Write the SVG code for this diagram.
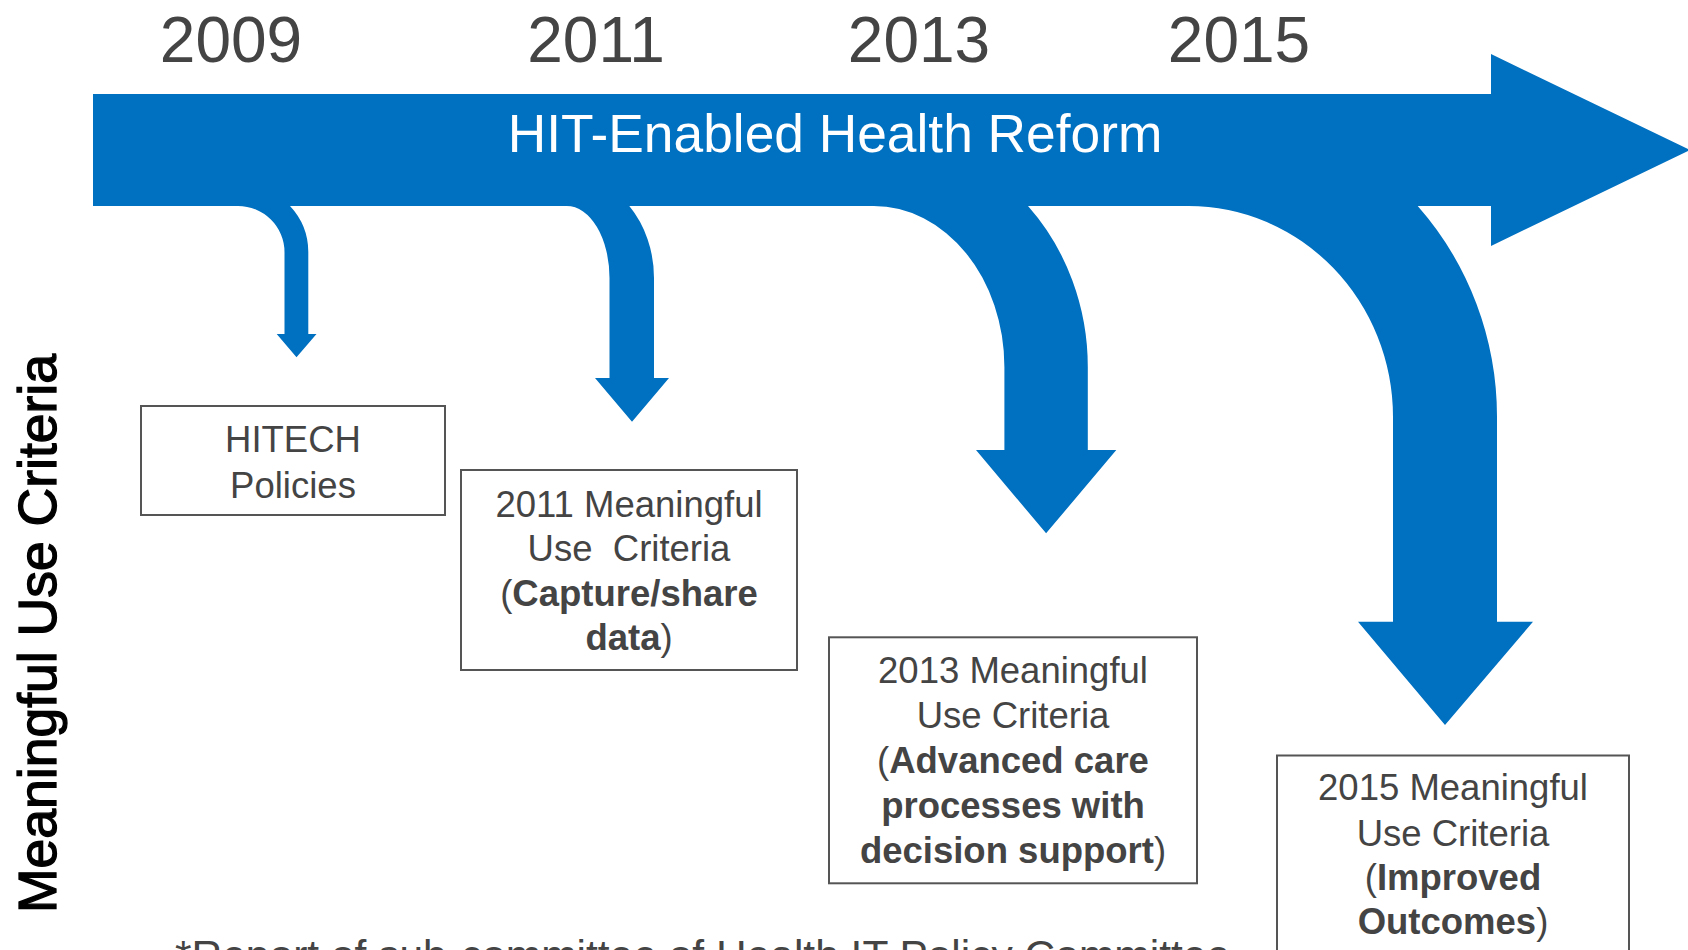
<svg xmlns="http://www.w3.org/2000/svg" width="1688" height="950" viewBox="0 0 1688 950">
<style>
.blue{fill:#0070C0}
.year{font-family:"Liberation Sans",Arial,sans-serif;font-size:64px;fill:#444;text-anchor:middle}
.box{fill:#fff;stroke:#555;stroke-width:2}
.bt{font-family:"Liberation Sans",Arial,sans-serif;font-size:36.5px;fill:#444;text-anchor:middle}
.b{font-weight:bold}
</style>
<rect width="1688" height="950" fill="#fff"/>
<g id="years">
<text class="year" x="231" y="62">2009</text>
<text class="year" x="596" y="62">2011</text>
<text class="year" x="919" y="62">2013</text>
<text class="year" x="1239" y="62">2015</text>
</g>
<g id="connectors">
<path id="main-arrow" class="blue" d="M93,94 L1491,94 L1491,54 L1690,150 L1491,246 L1491,206 L93,206 Z"/>
<path id="arrow-2009" class="blue" d="M238,200 L238,206 A46.5 46 0 0 1 284.5,252 L284.5,334 L276.7,334 L296.5,357.3 L316.5,334 L308.3,334 L308.3,252 A70.3 68.4 0 0 0 290,206 L290,200 Z"/>
<path id="arrow-2011" class="blue" d="M566.7,200 L566.7,206 A42.8 72 0 0 1 609.5,278 L609.5,378 L595,378 L632,421.7 L669,378 L654,378 L654,278 A87.3 103.3 0 0 0 629.3,206 L629.3,200 Z"/>
<path id="arrow-2013" class="blue" d="M873.6,200 L873.6,206 A130.8 161 0 0 1 1004.4,367 L1004.4,450 L976,450 L1046.1,533.3 L1116.3,450 L1087.8,450 L1087.8,367 A214.2 232.3 0 0 0 1028,206 L1028,200 Z"/>
<path id="arrow-2015" class="blue" d="M1188.5,200 L1188.5,206 A204.5 211 0 0 1 1393,417 L1393,621.7 L1358,621.7 L1445,725 L1533,621.7 L1497,621.7 L1497,417 A308.5 315 0 0 0 1417.7,206 L1417.7,200 Z"/>
</g>
<text id="main-label" x="835" y="151.5" font-family="Liberation Sans, Arial, sans-serif" font-size="53.3" fill="#fff" text-anchor="middle">HIT-Enabled Health Reform</text>
<g id="axis-label">
<text transform="translate(56,633.5) rotate(-90)" font-family="Liberation Sans, Arial, sans-serif" font-size="53.5" fill="#000" stroke="#000" stroke-width="1.3" text-anchor="middle">Meaningful Use Criteria</text>
</g>
<g id="box-hitech">
<rect class="box" x="141" y="406" width="304" height="109"/>
<text class="bt" x="293" y="452">HITECH</text>
<text class="bt" x="293" y="497.5">Policies</text>
</g>
<g id="box-2011">
<rect class="box" x="461" y="470" width="336" height="200"/>
<text class="bt" x="629" y="516.7">2011 Meaningful</text>
<text class="bt" x="629" y="561" xml:space="preserve">Use  Criteria</text>
<text class="bt" x="629" y="605.5">(<tspan class="b">Capture/share</tspan></text>
<text class="bt" x="629" y="650"><tspan class="b">data</tspan>)</text>
</g>
<g id="box-2013">
<rect class="box" x="829" y="637.3" width="368" height="246"/>
<text class="bt" x="1013" y="683.3">2013 Meaningful</text>
<text class="bt" x="1013" y="728.3">Use Criteria</text>
<text class="bt" x="1013" y="773.3">(<tspan class="b">Advanced care</tspan></text>
<text class="bt" x="1013" y="817.7"><tspan class="b">processes with</tspan></text>
<text class="bt" x="1013" y="862.7"><tspan class="b">decision support</tspan>)</text>
</g>
<g id="box-2015">
<rect class="box" x="1277" y="755.5" width="352" height="210"/>
<text class="bt" x="1453" y="800">2015 Meaningful</text>
<text class="bt" x="1453" y="845.7">Use Criteria</text>
<text class="bt" x="1453" y="890">(<tspan class="b">Improved</tspan></text>
<text class="bt" x="1453" y="934.3"><tspan class="b">Outcomes</tspan>)</text>
</g>
<text id="footnote" x="175" y="969.5" font-family="Liberation Sans, Arial, sans-serif" font-size="42.5" fill="#444">*Report of sub-committee of Health IT Policy Committee</text>
</svg>
